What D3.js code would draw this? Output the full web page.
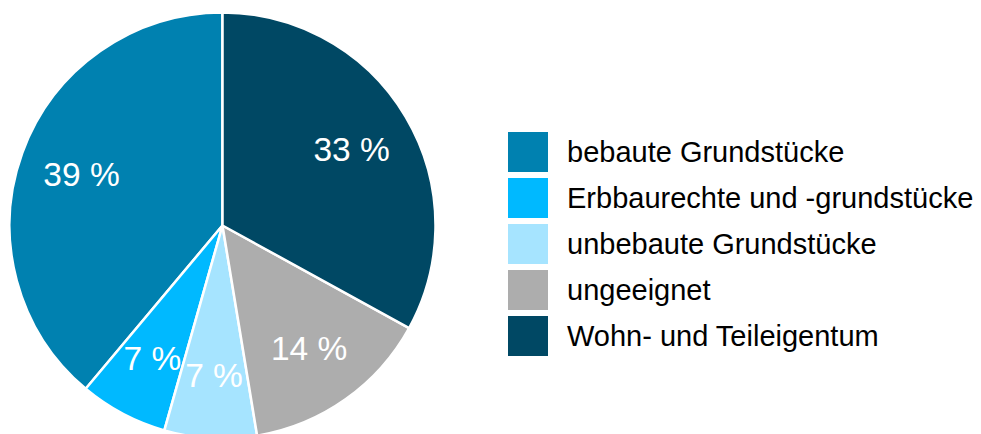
<!DOCTYPE html>
<html><head><meta charset="utf-8">
<script src="https://cdn.jsdelivr.net/npm/d3@7"></script>
<style>html,body{margin:0;padding:0;background:#fff;}svg{display:block;}</style>
</head><body>
<svg id="c" width="981" height="434"></svg>
<script>
const categories = ["bebaute Grundstücke","Erbbaurechte und -grundstücke","unbebaute Grundstücke","ungeeignet","Wohn- und Teileigentum"];
const values = [38.9, 6.7, 7.0, 14.4, 33.0];
const labels = ["39 %","7 %","7 %","14 %","33 %"];
const colors = ["#0081b0","#00b9ff","#a6e4ff","#adadad","#004864"];

const svg = d3.select("#c");
const cx = 222.5, cy = 225.5, R = 213;
const font = "'Liberation Sans', Arial, sans-serif";

const pie = d3.pie().sort(null).value(d => d).startAngle(0).endAngle(-2*Math.PI);
const arcs = pie(values);
const arc = d3.arc().innerRadius(0).outerRadius(R);
const labelArc = d3.arc().innerRadius(150).outerRadius(150);

const g = svg.append("g").attr("transform", `translate(${cx},${cy})`);
g.selectAll("path").data(arcs).join("path")
  .attr("d", arc)
  .attr("fill", (d,i) => colors[i])
  .attr("stroke", "#fff").attr("stroke-width", 2.5).attr("stroke-linejoin","round");

g.selectAll("text").data(arcs).join("text")
  .attr("transform", d => `translate(${labelArc.centroid(d)})`)
  .attr("text-anchor","middle").attr("dy","0.36em")
  .attr("fill","#fff").attr("font-family",font).attr("font-size",33.5)
  .text((d,i) => labels[i]);

const leg = svg.append("g");
const lx = 508, ly = 132, step = 46;
categories.forEach((c,i) => {
  leg.append("rect").attr("x",lx).attr("y",ly+i*step).attr("width",40).attr("height",40).attr("fill",colors[i]);
  leg.append("text").attr("x",567).attr("y",ly+i*step+20).attr("dy","0.36em")
    .attr("font-family",font).attr("font-size",29).attr("fill","#000").text(c);
});
</script>
</body></html>
